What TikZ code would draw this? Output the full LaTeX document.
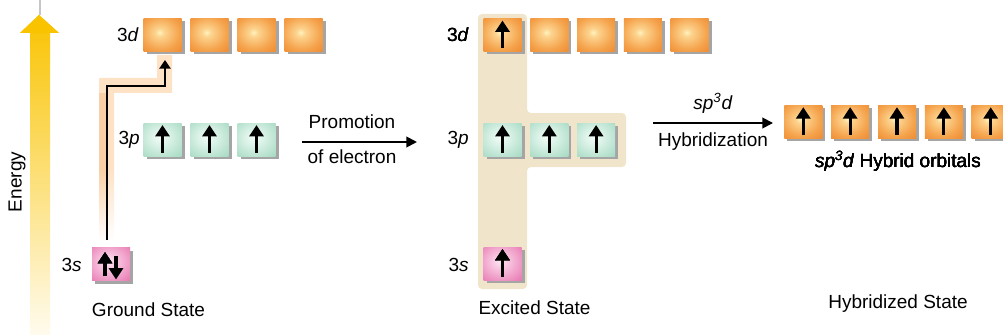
\documentclass[tikz,border=0pt]{standalone}
\usepackage{fontspec}
\setmainfont{Liberation Sans}
\usetikzlibrary{arrows.meta,shadows,calc}
\definecolor{shadowgray}{RGB}{165,165,165}
\definecolor{beige}{RGB}{240,229,203}
\definecolor{peach}{RGB}{253,226,198}
\definecolor{peachdark}{RGB}{249,208,165}
\definecolor{energytop}{RGB}{249,195,0}
\definecolor{energybot}{RGB}{255,251,238}
\pgfdeclareradialshading{orbO}{\pgfpoint{-4bp}{4bp}}{rgb(0bp)=(1,0.95,0.75); rgb(6bp)=(0.99,0.83,0.56); rgb(25bp)=(0.96,0.64,0.3); rgb(45bp)=(0.92,0.5,0.15); rgb(80bp)=(0.88,0.42,0.08)}
\pgfdeclareradialshading{orbG}{\pgfpoint{-4bp}{4bp}}{rgb(0bp)=(0.95,0.99,0.97); rgb(12bp)=(0.86,0.95,0.91); rgb(42bp)=(0.62,0.84,0.74); rgb(80bp)=(0.48,0.77,0.63)}
\pgfdeclareradialshading{orbP}{\pgfpoint{-4bp}{4bp}}{rgb(0bp)=(0.99,0.9,0.95); rgb(12bp)=(0.97,0.76,0.87); rgb(42bp)=(0.9,0.43,0.67); rgb(80bp)=(0.85,0.3,0.58)}
\tikzset{
  orb/.style={rectangle, minimum width=28.5pt, minimum height=24.75pt, inner sep=0pt, outer sep=0pt,
    general shadow={fill=shadowgray, shadow xshift=2.25pt, shadow yshift=-2.25pt}},
  dorb/.style={orb, shade, shading=orbO},
  porb/.style={orb, shade, shading=orbG},
  sorb/.style={orb, shade, shading=orbP},
  elec/.style={line width=2.3pt, -{Triangle[length=8.5pt,width=10.5pt]}},
  reacarrow/.style={line width=1.4pt, -{Triangle[length=8pt,width=8pt]}},
  promo/.style={line width=1.2pt, -{Triangle[length=6.5pt,width=8.5pt]}},
  txt/.style={font=\fontsize{14.25}{17}\selectfont, inner sep=0pt},
  lbl/.style={txt, anchor=east},
}
\newcommand\eup[1]{\draw[elec] ($(#1)+(0,13)$) -- ($(#1)+(0,-14.5)$);}
\begin{document}
\begin{tikzpicture}[x=0.75pt,y=-0.75pt]
\useasboundingbox (0,0) rectangle (1003,335);
% energy arrow
\draw[gray!45, line width=0.8pt] (40,0) -- (40,15);
\shade[top color=energytop, bottom color=energybot] (39,15) -- (59,33) -- (50,33) -- (50,335) -- (30,335) -- (30,33) -- (20,33) -- cycle;
\fill[energytop] (39,15) -- (59,33) -- (20,33) -- cycle;
\node[txt, rotate=90] (energy) at (17,182) {Energy};
% promotion glow band
\fill[peach] (99,78) -- (157,78) -- (157,55) -- (172,55) -- (172,93) -- (114,93) -- (114,170) -- (99,170) -- cycle;
\fill[peachdark] (99,93) rectangle (106,170);
\shade[top color=peachdark, bottom color=white] (99,170) rectangle (106,242);
\shade[top color=peach, bottom color=white] (106,170) rectangle (114,242);
% ground state
\foreach \i in {0,...,3} \node[dorb] (gd\i) at (162.5+47*\i,35) {};
\foreach \i in {0,...,2} \node[porb] (gp\i) at (162.5+47*\i,139.5) {};
\node[sorb] (gs) at (111,264) {};
\foreach \i in {0,...,2} \eup{gp\i}
\draw[elec] ($(gs)+(-6,12)$) -- ($(gs)+(-6,-12)$);
\draw[elec] ($(gs)+(5,-8)$) -- ($(gs)+(5,15.5)$);
\node[lbl] (lgd) at (139,35) {3\textit{d}};
\node[lbl] (lgp) at (140,140) {3\textit{p}};
\node[lbl] (lgs) at (82,265) {3\textit{s}};
\node[txt] (ground) at (148.5,310) {Ground State};
\coordinate (pstart) at (107,240);
\coordinate (ptip) at (165,60);
\draw[promo] (pstart) |- ($(ptip)+(0,26)$) -- (ptip);
% promotion arrow
\coordinate (pa) at (302,142);
\coordinate (pb) at (417,142);
\draw[reacarrow] (pa) -- (pb);
\node[txt] (promtxt) at (352,122) {Promotion};
\node[txt] (electxt) at (352,157) {of electron};
% excited state
\fill[beige, rounded corners=3pt] (478,14) -- (527,14) -- (527,113) -- (626,113) -- (626,167) -- (527,167) -- (527,289) -- (478,289) -- cycle;
\foreach \i in {0,...,4} \node[dorb] (ed\i) at (502.5+46.8*\i,35) {};
\foreach \i in {0,...,2} \node[porb] (ep\i) at (502.5+46.8*\i,139.5) {};
\node[sorb] (es) at (502.5,263.5) {};
\eup{ed0}
\foreach \i in {0,...,2} \eup{ep\i}
\eup{es}
\node[lbl] (led) at (469,35) {3\textit{d}};
\node[lbl] (lep) at (469,140) {3\textit{p}};
\node[lbl] (les) at (469,265) {3\textit{s}};
\node[txt] (excited) at (534.5,308) {Excited State};
% hybridization arrow
\coordinate (ha) at (653,123);
\coordinate (hb) at (773,123);
\draw[reacarrow] (ha) -- (hb);
\node[txt] (sptxt) at (713,103) {\textit{sp\textsuperscript{3}d}};
\node[txt] (hybtxt) at (713,142) {Hybridization};
% hybridized state
\foreach \i in {0,...,4} \node[dorb] (h\i) at (803.3+46.85*\i,121.7) {};
\foreach \i in {0,...,4} \eup{h\i}
\node[txt] (hybo) at (898,161) {\textit{sp\textsuperscript{3}d} Hybrid orbitals};
\node[txt] (hybstate) at (898,304) {Hybridized State};
\end{tikzpicture}
\end{document}
